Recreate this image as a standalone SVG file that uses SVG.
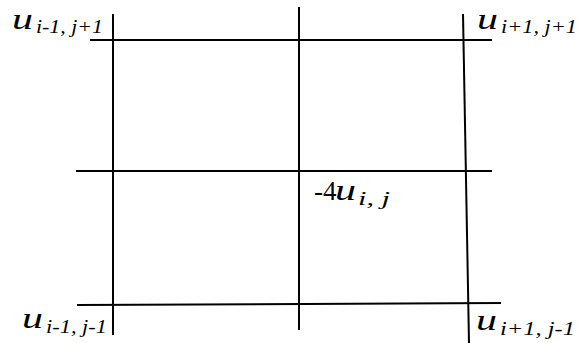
<svg xmlns="http://www.w3.org/2000/svg" width="579" height="343" viewBox="0 0 579 343">
<style>
.ln{stroke:#000;stroke-width:2;fill:none}
</style>
<defs>
<text id="uu" x="0" y="0" font-family="Liberation Serif, Times New Roman, serif" font-style="italic" font-size="30" fill="#000" transform="scale(1.4,1)">u</text>
</defs>
<rect width="579" height="343" fill="#fff"/>
<g id="connectors">
<line class="ln" x1="90" y1="40" x2="492" y2="40"/>
<line class="ln" x1="76" y1="171" x2="492" y2="171"/>
<line class="ln" x1="77" y1="305" x2="501" y2="303"/>
<line class="ln" x1="113" y1="14" x2="113" y2="335"/>
<line class="ln" x1="299" y1="7" x2="299" y2="330"/>
<line class="ln" x1="463" y1="14" x2="469" y2="343"/>
</g>
<g id="n-tl" font-family="Liberation Serif, Times New Roman, serif" font-style="italic" fill="#000"><use href="#uu" x="12" y="29"/><text x="36" y="33" font-size="18" textLength="67" lengthAdjust="spacingAndGlyphs">i-1, j+1</text></g>
<g id="n-tr" font-family="Liberation Serif, Times New Roman, serif" font-style="italic" fill="#000"><use href="#uu" x="477" y="29"/><text x="501" y="33" font-size="18" textLength="76" lengthAdjust="spacingAndGlyphs">i+1, j+1</text></g>
<g id="n-c" font-family="Liberation Serif, Times New Roman, serif" fill="#000"><text x="314" y="200" font-size="27">-4</text><use href="#uu" x="335" y="200"/><text x="358" y="205" font-size="18" font-style="italic" textLength="32" lengthAdjust="spacingAndGlyphs">i, j</text></g>
<g id="n-bl" font-family="Liberation Serif, Times New Roman, serif" font-style="italic" fill="#000"><use href="#uu" x="22" y="328"/><text x="46" y="333" font-size="18" textLength="61" lengthAdjust="spacingAndGlyphs">i-1, j-1</text></g>
<g id="n-br" font-family="Liberation Serif, Times New Roman, serif" font-style="italic" fill="#000"><use href="#uu" x="476" y="330"/><text x="500" y="335" font-size="18" textLength="75" lengthAdjust="spacingAndGlyphs">i+1, j-1</text></g>
</svg>
